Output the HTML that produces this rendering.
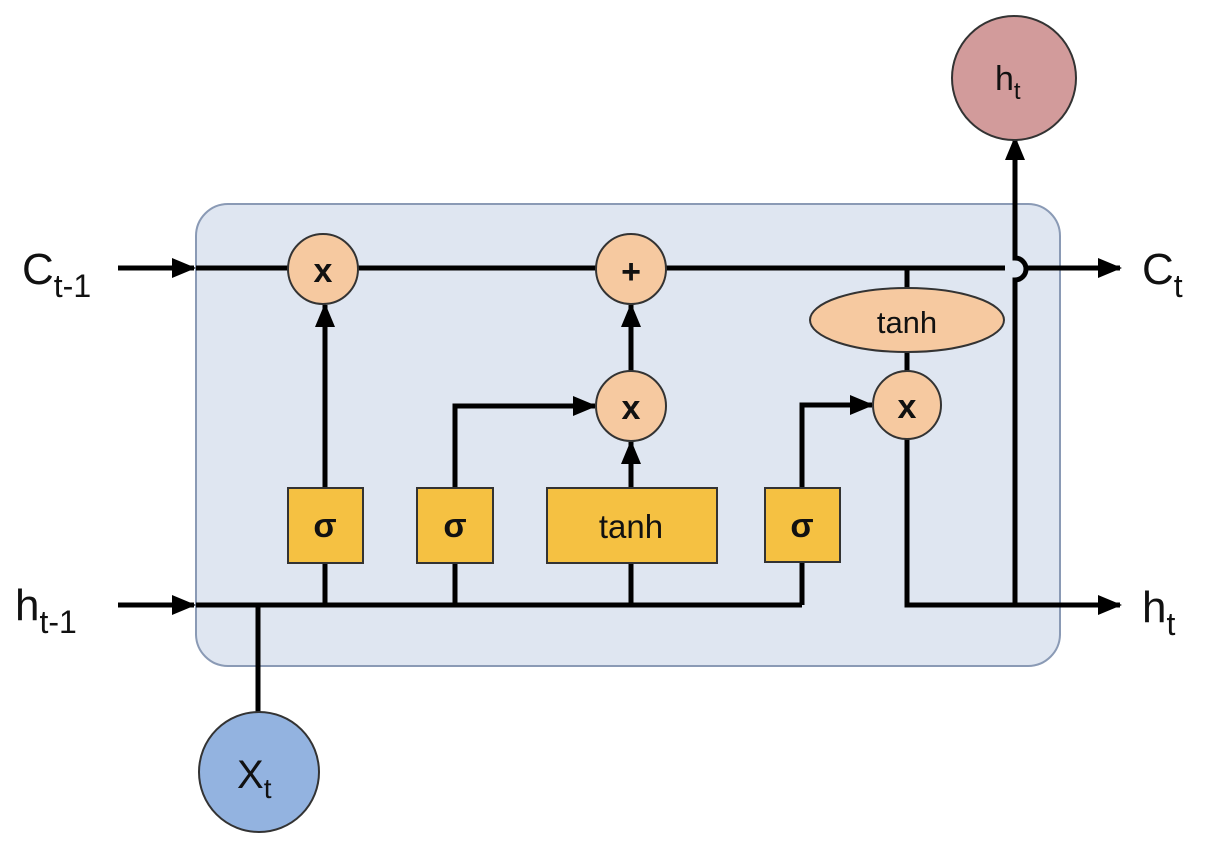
<!DOCTYPE html>
<html><head><meta charset="utf-8"><style>
html,body{margin:0;padding:0;background:#fff;}
svg{display:block;}
text{font-family:"Liberation Sans",sans-serif;fill:#111;}
</style></head><body>
<svg width="1222" height="850" viewBox="0 0 1222 850" xmlns="http://www.w3.org/2000/svg">
<defs>
<marker id="a" markerWidth="24" markerHeight="20" refX="22" refY="10" orient="auto" markerUnits="userSpaceOnUse">
<path d="M0,0 L24,10 L0,20 Z" fill="#000"/>
</marker>
</defs>
<rect x="196" y="204" width="864" height="462" rx="32" fill="#dfe6f1" stroke="#8a9ab5" stroke-width="2"/>
<g stroke="#000" stroke-width="5" fill="none">
<line x1="118" y1="268" x2="194" y2="268" marker-end="url(#a)"/>
<line x1="196" y1="268" x2="1005" y2="268"/>
<line x1="1025" y1="268" x2="1120" y2="268" marker-end="url(#a)"/>
<line x1="118" y1="605" x2="194" y2="605" marker-end="url(#a)"/>
<line x1="196" y1="605" x2="802" y2="605"/>
<line x1="258" y1="605" x2="258" y2="712"/>
<line x1="325" y1="605" x2="325" y2="563"/>
<line x1="455" y1="605" x2="455" y2="563"/>
<line x1="631" y1="605" x2="631" y2="563"/>
<line x1="802" y1="605" x2="802" y2="562"/>
<line x1="325" y1="488" x2="325" y2="305" marker-end="url(#a)"/>
<polyline points="455,488 455,406 595,406" marker-end="url(#a)"/>
<line x1="631" y1="488" x2="631" y2="442" marker-end="url(#a)"/>
<line x1="631" y1="371" x2="631" y2="305" marker-end="url(#a)"/>
<polyline points="802,488 802,405 872,405" marker-end="url(#a)"/>
<line x1="907" y1="268" x2="907" y2="290"/>
<line x1="907" y1="352" x2="907" y2="372"/>
<polyline points="907,438 907,605 1120,605" marker-end="url(#a)"/>
<path d="M1015,605 L1015,280 A11,11 0 0 0 1015,258 L1015,138" marker-end="url(#a)"/>
</g>
<g stroke="#333" stroke-width="2">
<circle cx="323" cy="269" r="35" fill="#f6c9a0"/>
<circle cx="631" cy="269" r="35" fill="#f6c9a0"/>
<circle cx="631" cy="406" r="35" fill="#f6c9a0"/>
<circle cx="907" cy="405" r="34" fill="#f6c9a0"/>
<ellipse cx="907" cy="320" rx="97" ry="32" fill="#f6c9a0"/>
<rect x="288" y="488" width="75" height="75" fill="#f5c142"/>
<rect x="417" y="488" width="76" height="75" fill="#f5c142"/>
<rect x="547" y="488" width="170" height="75" fill="#f5c142"/>
<rect x="765" y="488" width="75" height="74" fill="#f5c142"/>
<circle cx="1014" cy="78" r="62" fill="#d29b9b"/>
<circle cx="259" cy="772" r="60" fill="#93b3e0"/>
</g>
<g font-size="34" text-anchor="middle" font-weight="bold">
<text x="323" y="282">x</text>
<text x="631" y="283">+</text>
<text x="631" y="419">x</text>
<text x="907" y="418">x</text>
<text x="907" y="333" font-size="31" font-weight="normal">tanh</text>
<text x="325" y="537">σ</text>
<text x="455" y="537">σ</text>
<text x="631" y="538" font-size="33" font-weight="normal">tanh</text>
<text x="802" y="537">σ</text>
</g>
<g font-size="44">
<text x="22" y="284">C<tspan font-size="32" dy="13">t-1</tspan></text>
<text x="15" y="620">h<tspan font-size="32" dy="13">t-1</tspan></text>
<text x="1142" y="284">C<tspan font-size="32" dy="13">t</tspan></text>
<text x="1142" y="622">h<tspan font-size="32" dy="13">t</tspan></text>
<text x="995" y="90" font-size="34">h<tspan font-size="24" dy="9">t</tspan></text>
<text x="237" y="788" font-size="40">X<tspan font-size="28" dy="10">t</tspan></text>
</g>
</svg>
</body></html>
